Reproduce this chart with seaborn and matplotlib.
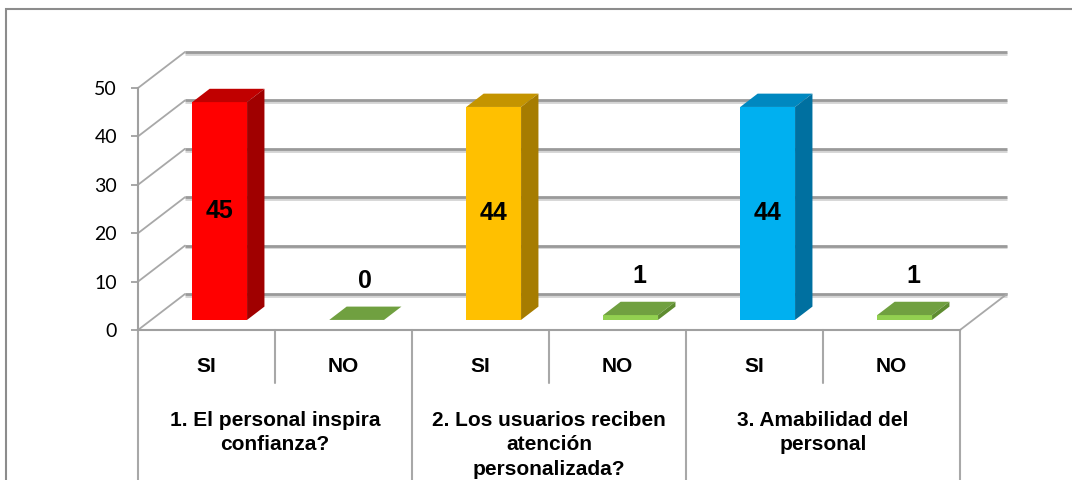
import numpy as np
import pandas as pd
import seaborn as sns
import matplotlib.pyplot as plt
import matplotlib.patheffects as pe
from matplotlib.patches import Polygon, Rectangle

# data
questions = ["1. El personal inspira\nconfianza?",
             "2. Los usuarios reciben\natención\npersonalizada?",
             "3. Amabilidad del\npersonal"]
answers = ["SI", "NO"]
counts = [45, 0, 44, 1, 44, 1]
y_ticks = [0, 10, 20, 30, 40, 50]

front_colors = ["#FF0000", "#92D050", "#FFC000", "#92D050", "#00B0F0", "#92D050"]
top_colors = ["#C00000", "#70A040", "#C49400", "#70A040", "#0088C0", "#70A040"]
side_colors = ["#A00000", "#5E8C30", "#A67C00", "#5E8C30", "#0070A0", "#5E8C30"]

sns.set_style("white")
plt.rcParams["font.family"] = ["Liberation Sans", "DejaVu Sans"]
plt.rcParams["text.color"] = "black"
plt.rcParams["ytick.labelcolor"] = "black"

cells = [f"{i}-{a}" for i in range(len(questions)) for a in answers]
df = pd.DataFrame({"cell": cells, "n": counts})

# oblique 3d look: depth offset in data units
DX, DY = 0.343, 7.44
F0, F1 = 0.28, 0.65
grey = "#9a9a9a"
shadow = [pe.SimpleLineShadow(offset=(0, -1.3), shadow_color="#d4d4d4", alpha=1), pe.Normal()]

fig = plt.figure(figsize=(10.72, 4.8), dpi=100)
ax = fig.add_axes([138 / 1072, 150 / 480, 822 / 1072, 242 / 480])

sns.barplot(data=df, x="cell", y="n", hue="cell", order=cells,
            palette=dict(zip(cells, front_colors)), saturation=1, legend=False,
            width=0.4, linewidth=0, errorbar=None, ax=ax, zorder=3)
bars = sorted(ax.patches, key=lambda p: p.get_x())

ax.set_xlim(-0.5, 5.5)
ax.set_ylim(0, 50)
ax.set_yticks(y_ticks)
ax.set_xticks([])
ax.set_xlabel("")
ax.set_ylabel("")
ax.tick_params(axis="y", left=True, length=5, width=1.3, color="#a0a0a0", pad=10,
               labelsize=14, labelcolor="black")
for lab in ax.get_yticklabels():
    lab.set_family(["Lato", "DejaVu Sans"])
for s in ["top", "right"]:
    ax.spines[s].set_visible(False)
for s in ["left", "bottom"]:
    ax.spines[s].set_color("#a0a0a0")
    ax.spines[s].set_linewidth(1.5)

# back wall gridlines and left wall lines
for v in y_ticks:
    bx, by = -0.5 + DX, v + DY
    ax.plot([bx, 5.5 + DX], [by, by], color=grey, lw=2, clip_on=False, zorder=1,
            path_effects=shadow, solid_capstyle="butt")
    ax.plot([-0.5, bx], [v, by], color="#a8a8a8", lw=1.3, clip_on=False, zorder=1)
ax.plot([5.5, 5.5 + DX], [0, DY], color="#a8a8a8", lw=1.3, clip_on=False, zorder=1)

# bars: shift front face into depth and add top/side faces
for i, bar in enumerate(bars):
    x0, w, h = bar.get_x(), bar.get_width(), bar.get_height()
    fx0 = x0 + F0 * DX
    fx1 = fx0 + w
    bx0 = x0 + F1 * DX
    bx1 = bx0 + w
    fy, byy = F0 * DY, F1 * DY
    bar.set_x(fx0)
    bar.set_y(fy)
    bar.set_clip_on(False)
    ax.add_patch(Polygon([(fx0, h + fy), (fx1, h + fy), (bx1, h + byy), (bx0, h + byy)],
                         closed=True, facecolor=top_colors[i], lw=0, zorder=3, clip_on=False))
    ax.add_patch(Polygon([(fx1, fy), (bx1, byy), (bx1, h + byy), (fx1, h + fy)],
                         closed=True, facecolor=side_colors[i], lw=0, zorder=3, clip_on=False))
    cx = (fx0 + bx1) / 2
    if h > 10:
        ax.text(fx0 + w / 2, fy + h / 2, str(counts[i]), ha="center", va="center",
                fontsize=18, fontweight="bold", color="black", zorder=5)
    else:
        ax.text(cx, h + byy + 5.3, str(counts[i]), ha="center", va="center",
                fontsize=18, fontweight="bold", color="black", zorder=5)

# category table below the floor
row_v, bottom_v = -10.95, -35
for k in range(len(cells) + 1):
    x = -0.5 + k
    ax.plot([x, x], [0, bottom_v if k % 2 == 0 else row_v], color="#a8a8a8", lw=1.5,
            clip_on=False, zorder=2)
for i, cell in enumerate(cells):
    ax.text(i, -8.74, answers[i % 2], ha="center", va="baseline",
            fontsize=15, fontweight="bold", color="black")
for j, q in enumerate(questions):
    for li, line in enumerate(q.split("\n")):
        ax.text(2 * j + 0.5, -19.77 - li * 5.12, line, ha="center", va="baseline",
                fontsize=15, fontweight="bold", color="black")

# outer chart border
fig.add_artist(Rectangle((6 / 1072, -0.5), 2, 1.5 - 9 / 480, transform=fig.transFigure,
                         fill=False, edgecolor="#8c8c8c", lw=1.5))

fig.savefig("out.png", dpi=100)
